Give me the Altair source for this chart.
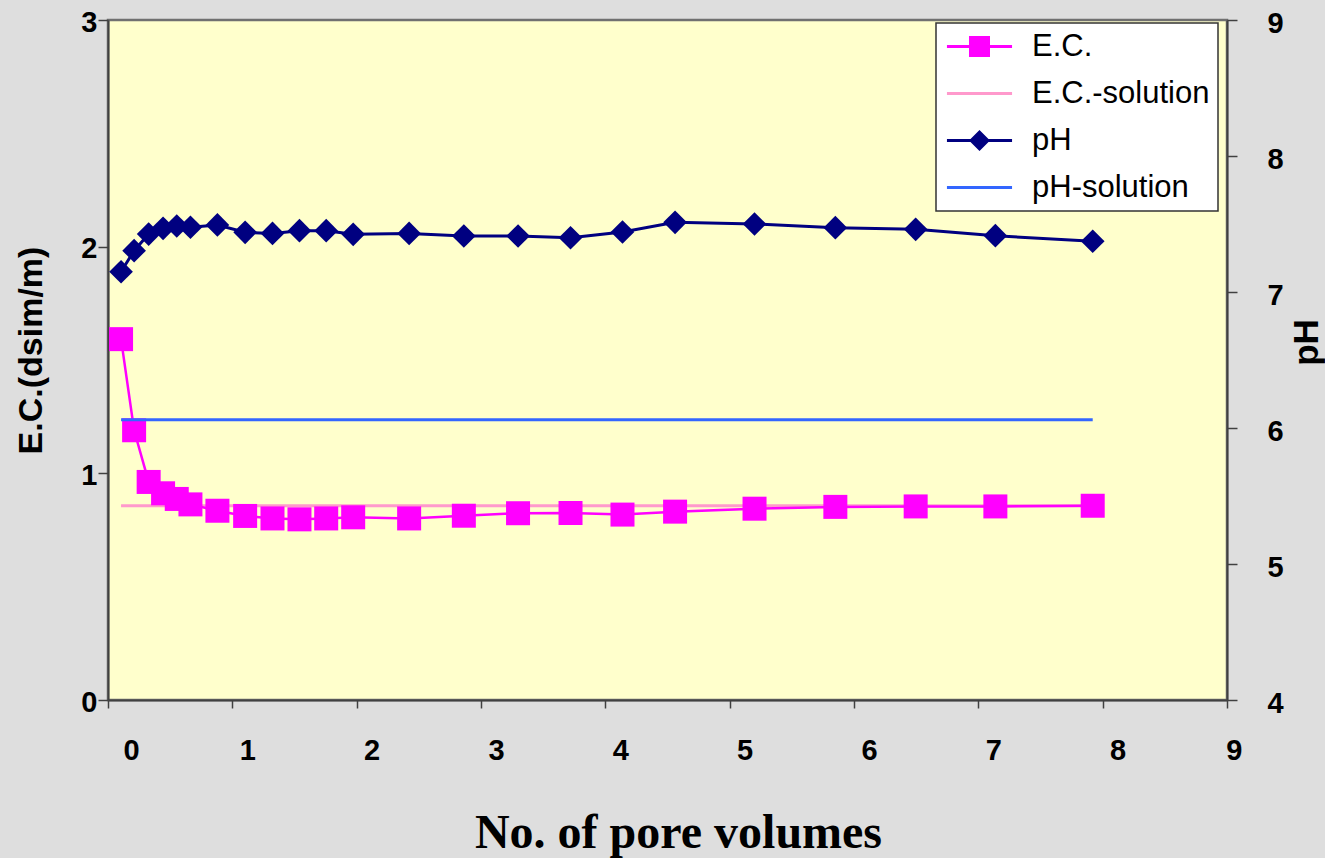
import altair as alt
import pandas as pd

# ---- data ----
pore_volumes = [0.105, 0.21, 0.327, 0.443, 0.553, 0.663, 0.88, 1.103, 1.323, 1.54,
                1.755, 1.972, 2.422, 2.862, 3.298, 3.72, 4.138, 4.561, 5.2, 5.85,
                6.496, 7.137, 7.92]
ec_values = [1.592, 1.190, 0.962, 0.912, 0.887, 0.863, 0.835, 0.812, 0.801, 0.797,
             0.801, 0.806, 0.801, 0.813, 0.824, 0.825, 0.818, 0.831, 0.844, 0.852,
             0.854, 0.854, 0.857]
ph_values = [7.149, 7.304, 7.426, 7.468, 7.485, 7.476, 7.493, 7.439, 7.431, 7.451,
             7.451, 7.424, 7.431, 7.412, 7.412, 7.399, 7.441, 7.512, 7.500, 7.473,
             7.461, 7.414, 7.373]
solution_x = [0.105, 7.92]
ec_solution = [0.857, 0.857]
ph_solution = [6.06, 6.06]

series_names = ["E.C.", "E.C.-solution", "pH", "pH-solution"]
series_colors = ["#FF00FF", "#FF99CC", "#000080", "#3366FF"]

x_ticks = [0, 1, 2, 3, 4, 5, 6, 7, 8, 9]
ec_ticks = [0, 1, 2, 3]
ph_ticks = [4, 5, 6, 7, 8, 9]

df = pd.DataFrame({"pv": pore_volumes, "ec": ec_values, "ph": ph_values})
sol = pd.DataFrame({"pv": solution_x, "ec": ec_solution, "ph": ph_solution})
leg = pd.DataFrame({"series": series_names})

# legend symbols: line + marker
line_part = "M-3.1,-0.14H3.1V0.14H-3.1Z"
legend_shapes = [
    line_part + " M-1,-1H1V1H-1Z",
    line_part,
    line_part + " M0,-1L1,0L0,1L-1,0Z",
    line_part,
]

SANS = "Liberation Sans"
SERIF = "Liberation Serif"

x_enc = alt.X(
    "pv:Q",
    scale=alt.Scale(domain=[0, 9], nice=False, zero=False),
    axis=alt.Axis(
        values=x_ticks, title="No. of pore volumes", grid=False,
        labelFont=SANS, labelFontSize=29, labelFontWeight="bold", labelColor="black",
        labelPadding=28, labelOffset=15, tickSize=8, tickColor="#404040", tickWidth=1.5,
        domainColor="#404040", domainWidth=2,
        titleFont=SERIF, titleFontSize=48, titleFontWeight="bold", titleColor="black",
        titleX=570, titleY=147, titleBaseline="alphabetic", titleAlign="center",
    ),
)

y_ec = alt.Y(
    "ec:Q",
    scale=alt.Scale(domain=[0, 3], nice=False, zero=False),
    axis=alt.Axis(
        values=ec_ticks, title="E.C.(dsim/m)", grid=False, orient="left",
        labelFont=SANS, labelFontSize=29, labelFontWeight="bold", labelColor="black",
        labelPadding=1, labelOffset=2, tickSize=10, tickColor="#404040", tickWidth=1.5,
        domainColor="#404040", domainWidth=2,
        titleFont=SANS, titleFontSize=34, titleFontWeight="bold", titleColor="black",
        titleAngle=270, titleX=-67, titleY=330, titleBaseline="alphabetic", titleAlign="center",
    ),
)

y_ph = alt.Y(
    "ph:Q",
    scale=alt.Scale(domain=[4, 9], nice=False, zero=False),
    axis=alt.Axis(
        values=ph_ticks, title="pH", grid=False, orient="right",
        labelFont=SANS, labelFontSize=29, labelFontWeight="bold", labelColor="black",
        labelPadding=30, labelOffset=3, tickSize=10, tickColor="#404040", tickWidth=1.5,
        domainColor="#404040", domainWidth=2,
        titleFont=SANS, titleFontSize=35, titleFontWeight="bold", titleColor="black",
        titleAngle=270, titleX=90, titleY=322, titleBaseline="alphabetic", titleAlign="center",
    ),
)

ec_sol_line = alt.Chart(sol).mark_line(color="#FF99CC", strokeWidth=3).encode(x=x_enc, y=y_ec)
ec_line = alt.Chart(df).mark_line(color="#FF00FF", strokeWidth=2.5).encode(x=x_enc, y=y_ec)
ec_pts = alt.Chart(df).mark_point(shape="square", filled=True, size=576, color="#FF00FF",
                                  opacity=1).encode(x=x_enc, y=y_ec)

ph_line = alt.Chart(df).mark_line(color="#000080", strokeWidth=3).encode(x=x_enc, y=y_ph)
ph_pts = alt.Chart(df).mark_point(shape="diamond", filled=True, size=560, color="#000080",
                                  opacity=1).encode(x=x_enc, y=y_ph)
ph_sol_line = alt.Chart(sol).mark_line(color="#3366FF", strokeWidth=3).encode(x=x_enc, y=y_ph)

legend_spec = dict(
    title=None, orient="none", legendX=828, legendY=3,
    fillColor="white", strokeColor="#333333", padding=8,
    labelFont=SANS, labelFontSize=31, labelColor="black", labelOffset=37, labelLimit=500,
    symbolSize=441, symbolOpacity=1, symbolStrokeWidth=0, symbolOffset=20, rowPadding=15,
)
legend_layer = alt.Chart(leg).mark_point(filled=True, opacity=0).encode(
    color=alt.Color("series:N", scale=alt.Scale(domain=series_names, range=series_colors),
                    legend=alt.Legend(**legend_spec)),
    shape=alt.Shape("series:N", scale=alt.Scale(domain=series_names, range=legend_shapes),
                    legend=alt.Legend(**legend_spec)),
)

left = alt.layer(ec_sol_line, ec_line, ec_pts)
right = alt.layer(ph_line, ph_pts, ph_sol_line)

chart = (
    alt.layer(left, right, legend_layer)
    .resolve_scale(y="independent")
    .properties(
        width=1119, height=680,
        padding={"left": 108, "top": 20, "right": 98, "bottom": 158},
        autosize=alt.AutoSizeParams(type="none"),
        background="#dedede",
        view=alt.ViewBackground(fill="#FFFFCC", stroke="#707070", strokeWidth=2.5),
    )
    .configure_view(fill="#FFFFCC", stroke="#707070", strokeWidth=2.5)
    .configure_legend(strokeWidth=1.5)
)

chart.save("out.html", embed_options={"renderer": "svg", "actions": False})
